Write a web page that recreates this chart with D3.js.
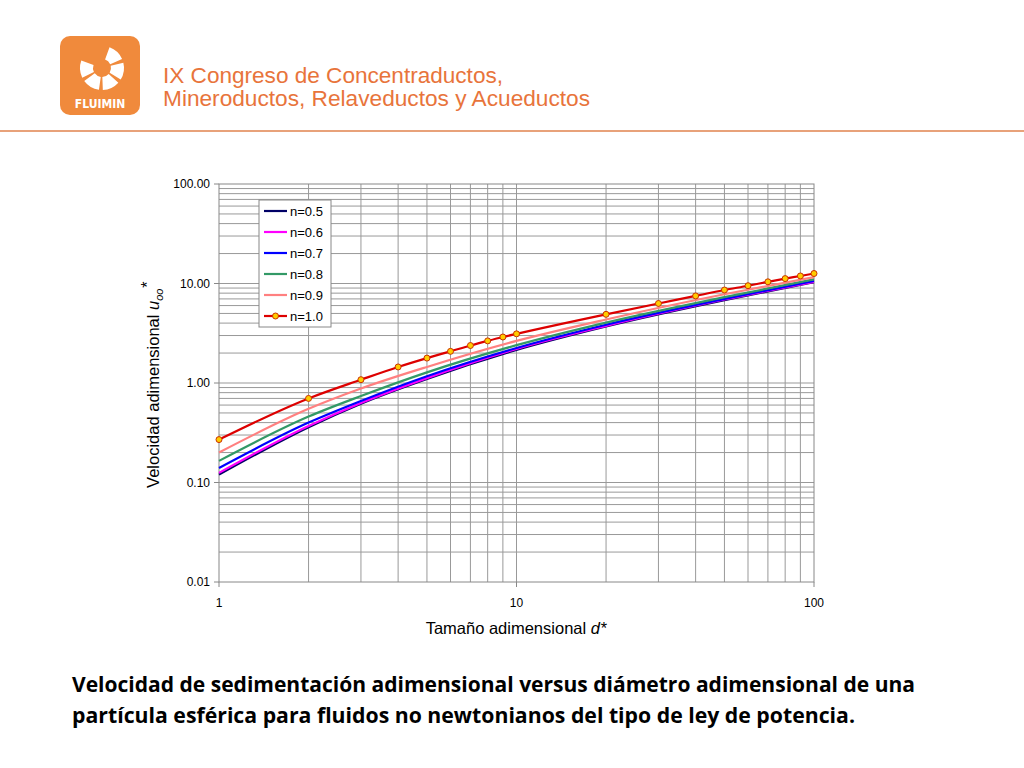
<!DOCTYPE html>
<html><head><meta charset="utf-8">
<script src="https://cdn.jsdelivr.net/npm/d3@7"></script>
<style>body{margin:0;background:#fff}svg{display:block}</style>
</head><body>
<svg id="c" width="1024" height="768"></svg>
<script>
const dSmall = [1, 2, 3, 5, 10, 20, 50, 100];
const n05 = [0.12, 0.36, 0.62, 1.1, 2.15, 3.7, 6.8, 10.3];
const n06 = [0.125, 0.37, 0.63, 1.12, 2.2, 3.75, 6.9, 10.4];
const n07 = [0.14, 0.40, 0.66, 1.17, 2.25, 3.85, 7.0, 10.6];
const n08 = [0.165, 0.46, 0.74, 1.28, 2.4, 4.05, 7.3, 11.0];
const n09 = [0.2, 0.55, 0.88, 1.45, 2.65, 4.35, 7.8, 11.6];
const dOne = [1, 2, 3, 4, 5, 6, 7, 8, 9, 10, 20, 30, 40, 50, 60, 70, 80, 90, 100];
const n10 = [0.27, 0.70, 1.08, 1.45, 1.78, 2.08, 2.38, 2.65, 2.9, 3.12, 4.9, 6.3, 7.5, 8.6, 9.5, 10.4, 11.2, 11.9, 12.6];
const yTicks = [0.01, 0.1, 1, 10, 100];
const xTicks = [1, 10, 100];

const series = [
  {name: 'n=0.5', xs: dSmall, ys: n05, color: '#000066'},
  {name: 'n=0.6', xs: dSmall, ys: n06, color: '#ff00ff'},
  {name: 'n=0.7', xs: dSmall, ys: n07, color: '#0000ff'},
  {name: 'n=0.8', xs: dSmall, ys: n08, color: '#339966'},
  {name: 'n=0.9', xs: dSmall, ys: n09, color: '#ff8080'},
  {name: 'n=1.0', xs: dOne, ys: n10, color: '#dd0000', marker: true}
];

const svg = d3.select('#c');
const orange = '#e8743b';

// header
const logo = svg.append('g');
logo.append('rect').attr('x', 60).attr('y', 36).attr('width', 80).attr('height', 79).attr('rx', 10).attr('fill', '#f08a3c');
const arc = d3.arc();
d3.range(5).forEach(i => {
  const a0 = (20 + i * 56) * Math.PI / 180;
  logo.append('path').attr('transform', 'translate(102,68)')
    .attr('d', arc({innerRadius: 9, outerRadius: 22, startAngle: a0, endAngle: a0 + 0.8}))
    .attr('fill', '#fff');
});
logo.append('text').attr('x', 100).attr('y', 108).attr('text-anchor', 'middle')
  .attr('font-family', 'DejaVu Sans Condensed, DejaVu Sans').attr('font-weight', 'bold').attr('font-size', 12).attr('fill', '#fff').text('FLUIMIN');
svg.append('text').attr('x', 163).attr('y', 83).attr('font-family', 'Liberation Sans, Arial').attr('font-size', 22).attr('fill', orange)
  .attr('textLength', 340).attr('lengthAdjust', 'spacingAndGlyphs').text('IX Congreso de Concentraductos,');
svg.append('text').attr('x', 163).attr('y', 106).attr('font-family', 'Liberation Sans, Arial').attr('font-size', 22).attr('fill', orange)
  .attr('textLength', 427).attr('lengthAdjust', 'spacingAndGlyphs').text('Mineroductos, Relaveductos y Acueductos');
svg.append('line').attr('x1', 0).attr('x2', 1024).attr('y1', 131).attr('y2', 131).attr('stroke', '#e8a27a').attr('stroke-width', 2);

// chart
const x = d3.scaleLog().domain([1, 100]).range([219, 814]);
const y = d3.scaleLog().domain([0.01, 100]).range([582, 184]);
const g = svg.append('g');
const minor = [];
[1, 10].forEach(b => d3.range(2, 10).forEach(k => minor.push(b * k)));
const minorY = [];
[0.01, 0.1, 1, 10].forEach(b => d3.range(2, 10).forEach(k => minorY.push(b * k)));
g.selectAll('.vx').data(minor.concat([10])).join('line')
  .attr('x1', d => x(d)).attr('x2', d => x(d)).attr('y1', 184).attr('y2', 582).attr('stroke', '#999').attr('stroke-width', 1);
g.selectAll('.hy').data(minorY.concat([0.1, 1, 10])).join('line')
  .attr('y1', d => y(d)).attr('y2', d => y(d)).attr('x1', 219).attr('x2', 814).attr('stroke', '#999').attr('stroke-width', 1);
g.append('rect').attr('x', 219).attr('y', 184).attr('width', 595).attr('height', 398).attr('fill', 'none').attr('stroke', '#888');

const font = 'Liberation Sans, Arial';
g.selectAll('.yt').data(yTicks).join('text').attr('x', 210).attr('y', d => y(d) + 4).attr('text-anchor', 'end')
  .attr('font-family', font).attr('font-size', 12).text(d => d.toFixed(2));
g.selectAll('.ytk').data(yTicks).join('line').attr('x1', 214).attr('x2', 219).attr('y1', d => y(d)).attr('y2', d => y(d)).attr('stroke', '#888');
g.selectAll('.xt').data(xTicks).join('text').attr('x', d => x(d)).attr('y', 607).attr('text-anchor', 'middle')
  .attr('font-family', font).attr('font-size', 12).text(d => d);
g.selectAll('.xtk').data(xTicks).join('line').attr('x1', d => x(d)).attr('x2', d => x(d)).attr('y1', 582).attr('y2', 587).attr('stroke', '#888');

const xl = svg.append('text').attr('x', 516).attr('y', 634).attr('text-anchor', 'middle').attr('font-family', font).attr('font-size', 16.5);
xl.append('tspan').text('Tamaño adimensional ');
xl.append('tspan').attr('font-style', 'italic').text('d*');
const yl = svg.append('text').attr('transform', 'translate(159,385) rotate(-90)').attr('text-anchor', 'middle').attr('font-family', font).attr('font-size', 16.5);
yl.append('tspan').text('Velocidad adimensional ');
yl.append('tspan').attr('font-style', 'italic').text('u');
yl.append('tspan').attr('font-style', 'italic').attr('font-size', 11).attr('dy', 4).text('oo');
yl.append('tspan').attr('font-style', 'italic').attr('dy', -10).text('*');

const line = d3.line().curve(d3.curveMonotoneX);
series.forEach(s => {
  const pts = s.xs.map((d, i) => [x(d), y(s.ys[i])]);
  g.append('path').attr('d', line(pts)).attr('fill', 'none').attr('stroke', s.color).attr('stroke-width', 2.2);
  if (s.marker) {
    g.selectAll(null).data(pts).join('circle').attr('cx', p => p[0]).attr('cy', p => p[1]).attr('r', 3)
      .attr('fill', '#ffcc00').attr('stroke', '#cc3300').attr('stroke-width', 1);
  }
});

// legend
const lg = g.append('g');
lg.append('rect').attr('x', 259).attr('y', 200).attr('width', 72).attr('height', 127).attr('fill', '#fff').attr('stroke', '#888');
series.forEach((s, i) => {
  const yy = 211 + i * 21;
  lg.append('line').attr('x1', 264).attr('x2', 287).attr('y1', yy).attr('y2', yy).attr('stroke', s.color).attr('stroke-width', 2.2);
  if (s.marker) lg.append('circle').attr('cx', 275.5).attr('cy', yy).attr('r', 3).attr('fill', '#ffcc00').attr('stroke', '#cc3300');
  lg.append('text').attr('x', 290).attr('y', yy + 4.5).attr('font-family', font).attr('font-size', 13).text(s.name);
});

// caption
const cap = ['Velocidad de sedimentación adimensional versus diámetro adimensional de una', 'partícula esférica para fluidos no newtonianos del tipo de ley de potencia.'];
const capLen = [843, 783];
svg.selectAll('.cap').data(cap).join('text').attr('x', 72).attr('y', (d, i) => 692 + i * 31)
  .attr('font-family', 'Open Sans, Liberation Sans').attr('font-weight', 'bold').attr('font-size', 20.5)
  .attr('textLength', (d, i) => capLen[i]).attr('lengthAdjust', 'spacingAndGlyphs').text(d => d);
</script>
</body></html>
